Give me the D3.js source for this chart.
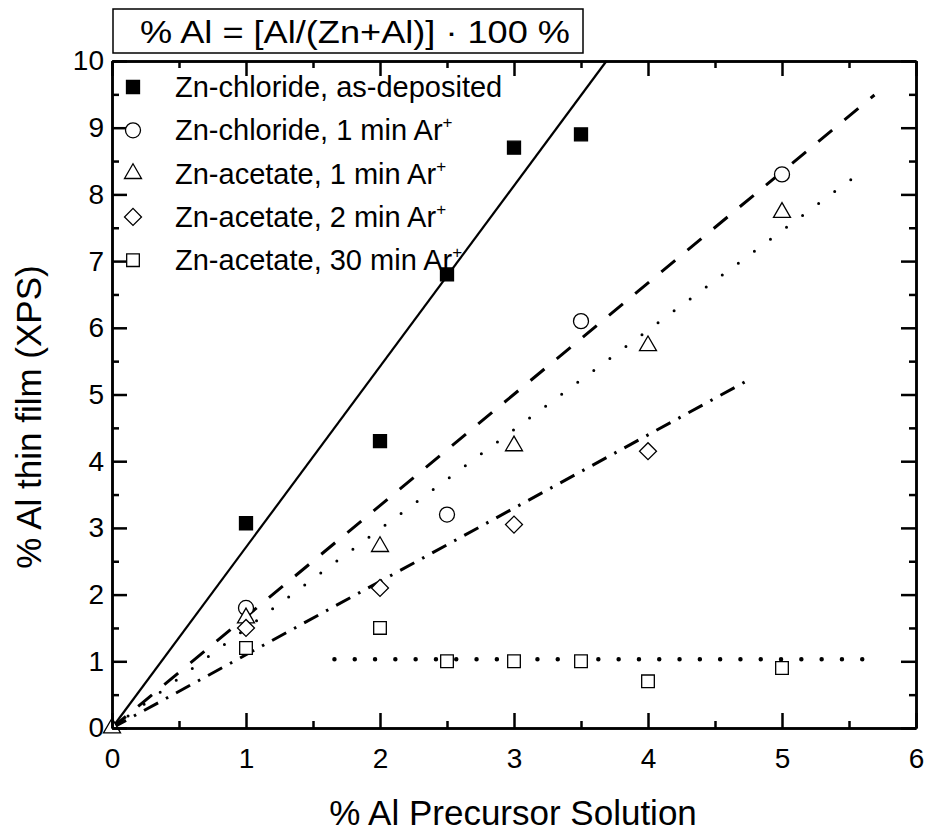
<!DOCTYPE html>
<html>
<head>
<meta charset="utf-8">
<script src="https://cdn.jsdelivr.net/npm/d3@7"></script>
<style>
  body { margin: 0; background: #fff; }
  text { font-family: "Liberation Sans", Arial, sans-serif; fill: #000; }
</style>
</head>
<body>
<div id="chart"></div>
<script>
// data
var xChlorideAsDep = [1, 2, 2.5, 3, 3.5];
var yChlorideAsDep = [3.07, 4.3, 6.8, 8.7, 8.9];
var xChloride1 = [1, 2.5, 3.5, 5];
var yChloride1 = [1.8, 3.2, 6.1, 8.3];
var xAcetate1 = [0, 1, 2, 3, 4, 5];
var yAcetate1 = [0, 1.65, 2.72, 4.23, 5.73, 7.73];
var xAcetate2 = [1, 2, 3, 4];
var yAcetate2 = [1.5, 2.1, 3.05, 4.15];
var xAcetate30 = [1, 2, 2.5, 3, 3.5, 4, 5];
var yAcetate30 = [1.2, 1.5, 1.0, 1.0, 1.0, 0.7, 0.9];

// fitted lines: [x0, y0, x1, y1]
var fitChlorideAsDep = [0, 0, 3.69, 10];
var fitChloride1 = [0, 0, 5.69, 9.49];
var fitAcetate1 = [0, 0, 5.6, 8.35];
var fitAcetate2 = [0, 0, 4.77, 5.24];
var fitAcetate30 = [1.66, 1.03, 5.63, 1.03];

var legendLabels = ["Zn-chloride, as-deposited", "Zn-chloride, 1 min Ar",
  "Zn-acetate, 1 min Ar", "Zn-acetate, 2 min Ar", "Zn-acetate, 30 min Ar"];
var legendSup = ["", "+", "+", "+", "+"];
var xTicks = [0, 1, 2, 3, 4, 5, 6];
var yTicks = [0, 1, 2, 3, 4, 5, 6, 7, 8, 9, 10];

var W = 925, H = 835;
var margin = {top: 61, right: 9, bottom: 107, left: 112};

var x = d3.scaleLinear().domain([0, 6]).range([margin.left, W - margin.right]);
var y = d3.scaleLinear().domain([0, 10]).range([H - margin.bottom, margin.top]);

var svg = d3.select("#chart").append("svg")
  .attr("width", W)
  .attr("height", H);

// marker styles
var series = [
  {xs: xChlorideAsDep, ys: yChlorideAsDep, shape: d3.symbolSquare, size: 169, fill: "#000", rot: 0},
  {xs: xChloride1, ys: yChloride1, shape: d3.symbolCircle, size: 177, fill: "#fff", rot: 0},
  {xs: xAcetate1, ys: yAcetate1, shape: d3.symbolTriangle, size: 125, fill: "#fff", rot: 0},
  {xs: xAcetate2, ys: yAcetate2, shape: d3.symbolSquare, size: 144, fill: "#fff", rot: 45},
  {xs: xAcetate30, ys: yAcetate30, shape: d3.symbolSquare, size: 160, fill: "#fff", rot: 0}
];

// fit lines
var fits = [
  {f: fitChlorideAsDep, dash: null, w: 2.2, cap: "butt"},
  {f: fitChloride1, dash: "18 16", w: 3, cap: "butt"},
  {f: fitAcetate1, dash: "0 20", w: 3, cap: "round"},
  {f: fitAcetate2, dash: "16 9 2.5 9", w: 3, cap: "butt"},
  {f: fitAcetate30, dash: "0 20.3", w: 4.5, cap: "round"}
];

svg.append("g").selectAll("line")
  .data(fits)
  .enter()
  .append("line")
    .attr("x1", function(d) { return x(d.f[0]); })
    .attr("y1", function(d) { return y(d.f[1]); })
    .attr("x2", function(d) { return x(d.f[2]); })
    .attr("y2", function(d) { return y(d.f[3]); })
    .attr("stroke", "#000")
    .attr("stroke-width", function(d) { return d.w; })
    .attr("stroke-linecap", function(d) { return d.cap; })
    .attr("stroke-dasharray", function(d) { return d.dash; });

// points
series.forEach(function(s) {
  var sym = d3.symbol().type(s.shape).size(s.size);
  svg.append("g").selectAll("path")
    .data(s.xs.map(function(v, i) { return [v, s.ys[i]]; }))
    .enter()
    .append("path")
      .attr("d", sym)
      .attr("transform", function(d) {
        return "translate(" + x(d[0]) + "," + y(d[1]) + ") rotate(" + s.rot + ")";
      })
      .attr("fill", s.fill)
      .attr("stroke", "#000")
      .attr("stroke-width", 1.3);
});

// axes with inward ticks
function styleAxis(g) {
  g.selectAll(".domain").attr("stroke-width", 2.5);
  g.selectAll(".tick line").attr("stroke-width", 2.5);
  g.selectAll("text").style("font-size", "28px").style("font-family", "Liberation Sans, Arial, sans-serif");
}

var minorX = [0.5, 1.5, 2.5, 3.5, 4.5, 5.5];
var minorY = d3.range(0.5, 10, 1);

svg.append("g")
  .attr("transform", "translate(0," + y(0) + ")")
  .call(d3.axisBottom(x).tickValues(xTicks).tickSize(-15).tickSizeOuter(0).tickPadding(20).tickFormat(d3.format("d")))
  .call(styleAxis);
svg.append("g")
  .attr("transform", "translate(0," + y(0) + ")")
  .call(d3.axisBottom(x).tickValues(minorX).tickSize(-7).tickSizeOuter(0).tickFormat(""))
  .call(styleAxis);

svg.append("g")
  .attr("transform", "translate(" + x(0) + ",0)")
  .call(d3.axisLeft(y).tickValues(yTicks).tickSize(-15).tickSizeOuter(0).tickPadding(8).tickFormat(d3.format("d")))
  .call(styleAxis);
svg.append("g")
  .attr("transform", "translate(" + x(0) + ",0)")
  .call(d3.axisLeft(y).tickValues(minorY).tickSize(-7).tickSizeOuter(0).tickFormat(""))
  .call(styleAxis);

svg.append("g")
  .attr("transform", "translate(0," + y(10) + ")")
  .call(d3.axisTop(x).tickValues(xTicks).tickSize(-15).tickSizeOuter(0).tickFormat(""))
  .call(styleAxis);
svg.append("g")
  .attr("transform", "translate(0," + y(10) + ")")
  .call(d3.axisTop(x).tickValues(minorX).tickSize(-7).tickSizeOuter(0).tickFormat(""))
  .call(styleAxis);

svg.append("g")
  .attr("transform", "translate(" + x(6) + ",0)")
  .call(d3.axisRight(y).tickValues(yTicks).tickSize(-15).tickSizeOuter(0).tickFormat(""))
  .call(styleAxis);
svg.append("g")
  .attr("transform", "translate(" + x(6) + ",0)")
  .call(d3.axisRight(y).tickValues(minorY).tickSize(-7).tickSizeOuter(0).tickFormat(""))
  .call(styleAxis);

// axis titles
svg.append("text")
  .attr("x", 513)
  .attr("y", 825)
  .attr("text-anchor", "middle")
  .style("font-size", "35px")
  .text("% Al Precursor Solution");

svg.append("text")
  .attr("transform", "translate(41,417) rotate(-90)")
  .attr("text-anchor", "middle")
  .style("font-size", "35px")
  .text("% Al thin film (XPS)");

// formula box on top
svg.append("rect")
  .attr("x", 113).attr("y", 9)
  .attr("width", 470).attr("height", 44)
  .attr("fill", "#fff")
  .attr("stroke", "#000")
  .attr("stroke-width", 1.5);
svg.append("text")
  .attr("x", 140)
  .attr("y", 43)
  .attr("textLength", 430)
  .attr("lengthAdjust", "spacingAndGlyphs")
  .style("font-size", "31px")
  .text("% Al = [Al/(Zn+Al)] \u00b7 100 %");

// legend
var legend = svg.append("g");
legendLabels.forEach(function(lab, i) {
  var ly = 87 + i * 43.3;
  var s = series[i];
  legend.append("path")
    .attr("d", d3.symbol().type(s.shape).size(s.size)())
    .attr("transform", "translate(133," + ly + ") rotate(" + s.rot + ")")
    .attr("fill", s.fill)
    .attr("stroke", "#000")
    .attr("stroke-width", 1.3);
  var t = legend.append("text")
    .attr("x", 175)
    .attr("y", ly + 10)
    .style("font-size", "29px")
    .text(lab);
  if (legendSup[i]) {
    t.append("tspan")
      .attr("dy", -12)
      .style("font-size", "17px")
      .text(legendSup[i]);
  }
});
</script>
</body>
</html>
